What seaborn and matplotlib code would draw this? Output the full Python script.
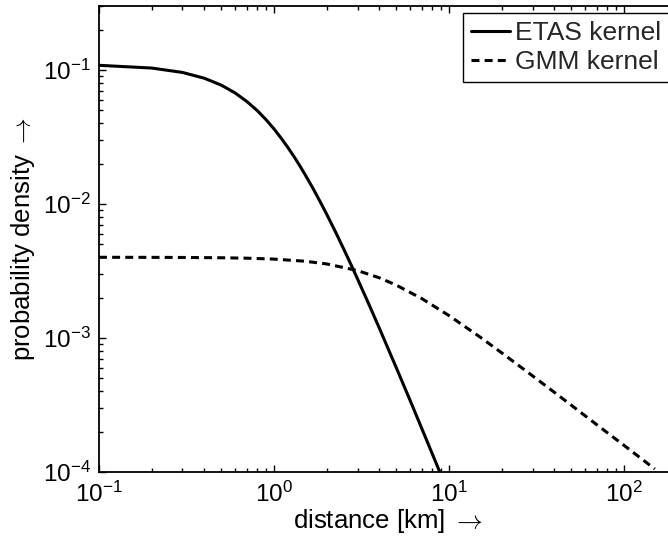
import matplotlib
matplotlib.use("Agg")
import matplotlib.pyplot as plt
import seaborn as sns
import pandas as pd
import numpy as np
from matplotlib.ticker import LogLocator, FuncFormatter, NullFormatter

# ---- data ----
etas_distance = [0.1, 0.2, 0.3, 0.4, 0.5, 0.6, 0.7, 0.8, 0.9, 1.0,
                 1.1, 1.2, 1.3, 1.4, 1.5, 1.6, 1.7, 1.8, 1.9, 2.0,
                 2.25, 2.5, 2.75, 3.0, 3.5, 4.0, 5.0, 6.0, 7.0, 8.0, 9.0]
etas_density = [0.1083, 0.1033, 0.0958, 0.0867, 0.0770, 0.0673, 0.0581, 0.0499, 0.0426, 0.0363,
                0.0309, 0.0264, 0.0226, 0.0194, 0.01669, 0.01442, 0.01252, 0.01090, 0.00954,
                0.00838, 0.00616, 0.00462, 0.00354, 0.00276, 0.001762, 0.001182, 0.000599,
                0.000341, 0.000210, 0.000138, 0.000095]
gmm_distance = [0.1, 0.2, 0.3, 0.5, 0.7, 1.0, 1.5, 2.0, 3.0, 4.0, 5.0, 7.0, 10.0,
                15.0, 20.0, 30.0, 40.0, 50.0, 70.0, 100.0, 150.0]
gmm_density = [4.0e-3, 3.995e-3, 3.989e-3, 3.968e-3, 3.939e-3, 3.878e-3, 3.739e-3, 3.569e-3,
               3.185e-3, 2.811e-3, 2.479e-3, 1.966e-3, 1.469e-3, 1.019e-3, 7.75e-4, 5.22e-4,
               3.93e-4, 3.15e-4, 2.25e-4, 1.58e-4, 1.053e-4]
series_labels = ["ETAS kernel", "GMM kernel"]
x_label = r"distance [km] $\rightarrow$"
y_label = r"probability density $\rightarrow$"

sns.set_theme(style="white")
plt.rcParams["font.family"] = ["Liberation Sans", "DejaVu Sans"]
plt.rcParams["axes.unicode_minus"] = False

W, H = 668, 545
fig = plt.figure(figsize=(W / 100, H / 100), dpi=100)
fig.patch.set_facecolor("white")
left, right, top, bottom = 99, 676.7, 6, 472
ax = fig.add_axes([left / W, 1 - bottom / H, (right - left) / W, (bottom - top) / H])
ax.set_facecolor("white")
ax.set_xscale("log")
ax.set_yscale("log")

etas_df = pd.DataFrame({"distance": etas_distance, "density": etas_density})
gmm_df = pd.DataFrame({"distance": gmm_distance, "density": gmm_density})
sns.lineplot(data=etas_df, x="distance", y="density", ax=ax, color="black",
             linewidth=2.2, label=series_labels[0], sort=True)
sns.lineplot(data=gmm_df, x="distance", y="density", ax=ax, color="black",
             linewidth=2.2, linestyle=(0, (2.6, 1.7)), label=series_labels[1], sort=True)

ax.set_xlim(0.1, 200)
ax.set_ylim(1e-4, 0.3)


def pow10(v, pos=None):
    e = int(round(np.log10(v)))
    return r"$\mathregular{10^{%d}}$" % e


ax.xaxis.set_major_locator(LogLocator(base=10, numticks=10))
ax.yaxis.set_major_locator(LogLocator(base=10, numticks=10))
ax.xaxis.set_minor_locator(LogLocator(base=10, subs=range(2, 10), numticks=20))
ax.yaxis.set_minor_locator(LogLocator(base=10, subs=range(2, 10), numticks=20))
ax.xaxis.set_major_formatter(FuncFormatter(pow10))
ax.yaxis.set_major_formatter(FuncFormatter(pow10))
ax.xaxis.set_minor_formatter(NullFormatter())
ax.yaxis.set_minor_formatter(NullFormatter())

ax.tick_params(which="both", direction="in", top=True, right=True,
               bottom=True, left=True, color="black", width=1.0)
ax.tick_params(which="major", length=5, labelsize=17.5, labelcolor="black")
ax.tick_params(axis="x", which="major", pad=7)
ax.tick_params(axis="y", which="major", pad=6)
ax.tick_params(which="minor", length=2.8)
for s in ax.spines.values():
    s.set_color("black")
    s.set_linewidth(1.3)

ax.set_xlabel(x_label, fontsize=18.5, color="black", labelpad=0, math_fontfamily="cm")
ax.set_ylabel(y_label, fontsize=18.5, color="black", labelpad=4, math_fontfamily="cm")

leg = ax.legend(loc="upper left", bbox_to_anchor=(462.7 / W, 1 - 13.3 / H),
                bbox_transform=fig.transFigure, borderaxespad=0,
                fontsize=19, frameon=True, fancybox=False, shadow=False,
                handlelength=1.5, handletextpad=0.17, labelspacing=0.2,
                borderpad=0.3)
leg.get_frame().set_edgecolor("black")
leg.get_frame().set_linewidth(1.0)
leg.get_frame().set_alpha(1)

fig.savefig("out.png", dpi=100, facecolor="white")
